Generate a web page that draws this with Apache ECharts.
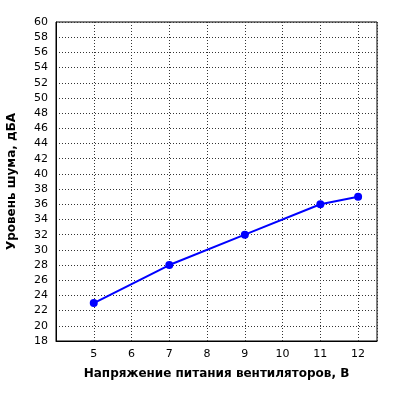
<!DOCTYPE html>
<html><head><meta charset="utf-8">
<script src="https://cdn.jsdelivr.net/npm/echarts@6/dist/echarts.min.js"></script>
<style>html,body{margin:0;padding:0;background:#fff}#c{width:400px;height:400px}</style>
</head><body><div id="c"></div>
<script>
const voltages = [5, 7, 9, 11, 12];
const noise = [23, 28, 32, 36, 37];
const xTitle = 'Напряжение питания вентиляторов, В';
const yTitle = 'Уровень шума, дБА';
const chart = echarts.init(document.getElementById('c'));
const font = 'DejaVu Sans';
chart.setOption({
  animation: false,
  grid: {left: 56, right: 23, top: 22, bottom: 59, show: true, borderColor: '#000', borderWidth: 1, containLabel: false, outerBoundsMode: 'none'},
  xAxis: {
    type: 'value', min: 4, max: 12.5, interval: 1,
    name: xTitle, nameLocation: 'middle', nameGap: 27,
    nameTextStyle: {fontFamily: font, fontSize: 12, fontWeight: 'bold', color: '#000'},
    axisLine: {lineStyle: {color: '#000'}}, axisTick: {show: false},
    axisLabel: {fontFamily: font, fontSize: 11, color: '#000', formatter: v => (v >= 5 && v <= 12 && Number.isInteger(v)) ? v : ''},
    splitLine: {show: true, lineStyle: {type: [1, 2], color: '#333'}}
  },
  yAxis: {
    type: 'value', min: 18, max: 60, interval: 2,
    name: yTitle, nameLocation: 'middle', nameGap: 38,
    nameTextStyle: {fontFamily: font, fontSize: 12, fontWeight: 'bold', color: '#000'},
    axisLine: {lineStyle: {color: '#000'}}, axisTick: {show: false},
    axisLabel: {fontFamily: font, fontSize: 11, color: '#000'},
    splitLine: {show: true, lineStyle: {type: [1, 2], color: '#333'}}
  },
  series: [{
    type: 'line', data: voltages.map((v, i) => [v, noise[i]]),
    symbol: 'circle', symbolSize: 8,
    lineStyle: {color: '#0000ff', width: 2}, itemStyle: {color: '#0000ff'}
  }]
});
</script></body></html>
